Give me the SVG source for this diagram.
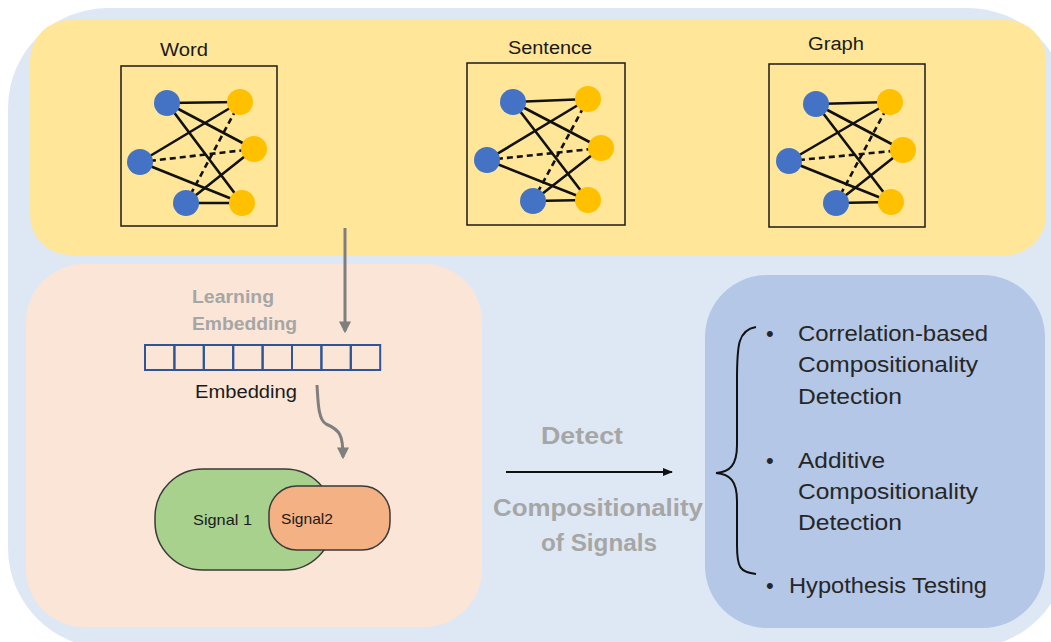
<svg xmlns="http://www.w3.org/2000/svg" width="1051" height="642" viewBox="0 0 1051 642">
<defs>
<style>
.lbl{font-family:"Liberation Sans",Arial,sans-serif;fill:#1a1a1a;}
.gray{font-family:"Liberation Sans",Arial,sans-serif;fill:#a6a6a6;font-weight:bold;}
.box{fill:none;stroke:#1a1a1a;stroke-width:1.5;}
.e{stroke:#111;stroke-width:2.6;}
.d{stroke:#111;stroke-width:2.6;stroke-dasharray:6 4;}
.b{fill:#4472c4;}
.y{fill:#ffc000;}
.cell{fill:none;stroke:#2f5597;stroke-width:2;}
.txt{font-family:"Liberation Sans",Arial,sans-serif;fill:#262626;font-size:22px;}
</style>
<marker id="ga" viewBox="0 0 10 10" refX="8" refY="5" markerWidth="4" markerHeight="4" orient="auto" markerUnits="strokeWidth">
<path d="M0,0 L10,5 L0,10 z" fill="#7f7f7f"/>
</marker>
<marker id="ka" viewBox="0 0 10 10" refX="9" refY="5" markerWidth="5" markerHeight="5" orient="auto" markerUnits="strokeWidth">
<path d="M0,1 L10,5 L0,9 z" fill="#111"/>
</marker>
</defs>
<g id="background">
<rect x="8" y="8" width="1060" height="640" rx="100" ry="100" fill="#dee8f4"/>
</g>
<g id="panel-input">
<rect x="30" y="20" width="1016" height="235" rx="40" ry="40" fill="#ffe699"/>
</g>
<g id="panel-embedding">
<rect x="26" y="264" width="456" height="363" rx="58" ry="58" fill="#fbe5d6"/>
</g>
<g id="panel-methods">
<rect x="705" y="275" width="340" height="353" rx="62" ry="62" fill="#b4c7e7"/>
</g>
<g id="net-word">
<text class="lbl" x="160" y="56" font-size="18" textLength="48" lengthAdjust="spacingAndGlyphs">Word</text>
<rect class="box" x="121" y="66" width="156" height="160"/>
<line class="e" x1="167" y1="103" x2="240" y2="102"/>
<line class="e" x1="167" y1="103" x2="254" y2="149"/>
<line class="e" x1="167" y1="103" x2="242" y2="203"/>
<line class="e" x1="140" y1="162" x2="240" y2="102"/>
<line class="d" x1="140" y1="162" x2="254" y2="149"/>
<line class="e" x1="140" y1="162" x2="242" y2="203"/>
<line class="d" x1="186" y1="203" x2="240" y2="102"/>
<line class="e" x1="186" y1="203" x2="254" y2="149"/>
<line class="e" x1="186" y1="203" x2="242" y2="203"/>
<circle class="b" cx="167" cy="103" r="13"/>
<circle class="b" cx="140" cy="162" r="13"/>
<circle class="b" cx="186" cy="203" r="13"/>
<circle class="y" cx="240" cy="102" r="13"/>
<circle class="y" cx="254" cy="149" r="13"/>
<circle class="y" cx="242" cy="203" r="13"/>
</g>
<g id="net-sentence">
<text class="lbl" x="508" y="54" font-size="18" textLength="84" lengthAdjust="spacingAndGlyphs">Sentence</text>
<rect class="box" x="467" y="63" width="158" height="162"/>
<line class="e" x1="513" y1="102" x2="588" y2="99"/>
<line class="e" x1="513" y1="102" x2="601" y2="148"/>
<line class="e" x1="513" y1="102" x2="588" y2="200"/>
<line class="e" x1="487" y1="160" x2="588" y2="99"/>
<line class="d" x1="487" y1="160" x2="601" y2="148"/>
<line class="e" x1="487" y1="160" x2="588" y2="200"/>
<line class="d" x1="533" y1="201" x2="588" y2="99"/>
<line class="e" x1="533" y1="201" x2="601" y2="148"/>
<line class="e" x1="533" y1="201" x2="588" y2="200"/>
<circle class="b" cx="513" cy="102" r="13"/>
<circle class="b" cx="487" cy="160" r="13"/>
<circle class="b" cx="533" cy="201" r="13"/>
<circle class="y" cx="588" cy="99" r="13"/>
<circle class="y" cx="601" cy="148" r="13"/>
<circle class="y" cx="588" cy="200" r="13"/>
</g>
<g id="net-graph">
<text class="lbl" x="808" y="50" font-size="18" textLength="56" lengthAdjust="spacingAndGlyphs">Graph</text>
<rect class="box" x="769" y="64" width="156" height="163"/>
<line class="e" x1="816" y1="104" x2="890" y2="102"/>
<line class="e" x1="816" y1="104" x2="903" y2="150"/>
<line class="e" x1="816" y1="104" x2="891" y2="202"/>
<line class="e" x1="789" y1="161" x2="890" y2="102"/>
<line class="d" x1="789" y1="161" x2="903" y2="150"/>
<line class="e" x1="789" y1="161" x2="891" y2="202"/>
<line class="d" x1="836" y1="203" x2="890" y2="102"/>
<line class="e" x1="836" y1="203" x2="903" y2="150"/>
<line class="e" x1="836" y1="203" x2="891" y2="202"/>
<circle class="b" cx="816" cy="104" r="13"/>
<circle class="b" cx="789" cy="161" r="13"/>
<circle class="b" cx="836" cy="203" r="13"/>
<circle class="y" cx="890" cy="102" r="13"/>
<circle class="y" cx="903" cy="150" r="13"/>
<circle class="y" cx="891" cy="202" r="13"/>
</g>
<g id="embedding">
<text class="gray" x="192" y="303" font-size="18" textLength="82" lengthAdjust="spacingAndGlyphs">Learning</text>
<text class="gray" x="192" y="330" font-size="18" textLength="105" lengthAdjust="spacingAndGlyphs">Embedding</text>
<rect class="cell" x="145" y="345" width="29.4" height="25"/>
<rect class="cell" x="174.4" y="345" width="29.4" height="25"/>
<rect class="cell" x="203.8" y="345" width="29.4" height="25"/>
<rect class="cell" x="233.2" y="345" width="29.4" height="25"/>
<rect class="cell" x="262.6" y="345" width="29.4" height="25"/>
<rect class="cell" x="292" y="345" width="29.4" height="25"/>
<rect class="cell" x="321.4" y="345" width="29.4" height="25"/>
<rect class="cell" x="350.8" y="345" width="29.4" height="25"/>
<text class="lbl" x="195" y="398" font-size="18" textLength="102" lengthAdjust="spacingAndGlyphs">Embedding</text>
</g>
<g id="signals">
<rect x="155" y="469" width="178" height="101" rx="48" ry="48" fill="#a9d18e" stroke="#3a3a3a" stroke-width="1.5"/>
<rect x="269" y="486" width="121" height="64" rx="28" ry="28" fill="#f4b183" stroke="#3a3a3a" stroke-width="1.5"/>
<text class="lbl" x="193" y="525" font-size="15" textLength="59" lengthAdjust="spacingAndGlyphs">Signal 1</text>
<text class="lbl" x="281" y="524" font-size="15" textLength="52" lengthAdjust="spacingAndGlyphs">Signal2</text>
</g>
<g id="detect-label">
<text class="gray" x="541" y="444" font-size="23" textLength="82" lengthAdjust="spacingAndGlyphs">Detect</text>
<text class="gray" x="493" y="516" font-size="24" textLength="210" lengthAdjust="spacingAndGlyphs">Compositionality</text>
<text class="gray" x="541" y="551" font-size="24" textLength="116" lengthAdjust="spacingAndGlyphs">of Signals</text>
</g>
<g id="methods">
<path d="M756,327 C738,330 737,345 737,380 L737,445 C737,465 730,472 716,473 C730,474 737,481 737,501 L737,545 C737,568 740,572 756,574" fill="none" stroke="#111" stroke-width="2"/>
<text class="txt" x="766" y="341">•</text>
<text class="txt" x="798" y="341" textLength="190" lengthAdjust="spacingAndGlyphs">Correlation-based</text>
<text class="txt" x="798" y="372" textLength="180" lengthAdjust="spacingAndGlyphs">Compositionality</text>
<text class="txt" x="798" y="404" textLength="104" lengthAdjust="spacingAndGlyphs">Detection</text>
<text class="txt" x="766" y="468">•</text>
<text class="txt" x="798" y="468" textLength="87" lengthAdjust="spacingAndGlyphs">Additive</text>
<text class="txt" x="798" y="499" textLength="180" lengthAdjust="spacingAndGlyphs">Compositionality</text>
<text class="txt" x="798" y="530" textLength="104" lengthAdjust="spacingAndGlyphs">Detection</text>
<text class="txt" x="766" y="593">•</text>
<text class="txt" x="789" y="593" textLength="198" lengthAdjust="spacingAndGlyphs">Hypothesis Testing</text>
</g>
<g id="connectors">
<line x1="345" y1="228" x2="345" y2="331" stroke="#7f7f7f" stroke-width="3" marker-end="url(#ga)"/>
<path d="M317,385 C318,400 318,420 326,424 C340,430 343,435 343,457" fill="none" stroke="#7f7f7f" stroke-width="3" marker-end="url(#ga)"/>
<line x1="506" y1="472" x2="672" y2="472" stroke="#111" stroke-width="2" marker-end="url(#ka)"/>
</g>
</svg>
